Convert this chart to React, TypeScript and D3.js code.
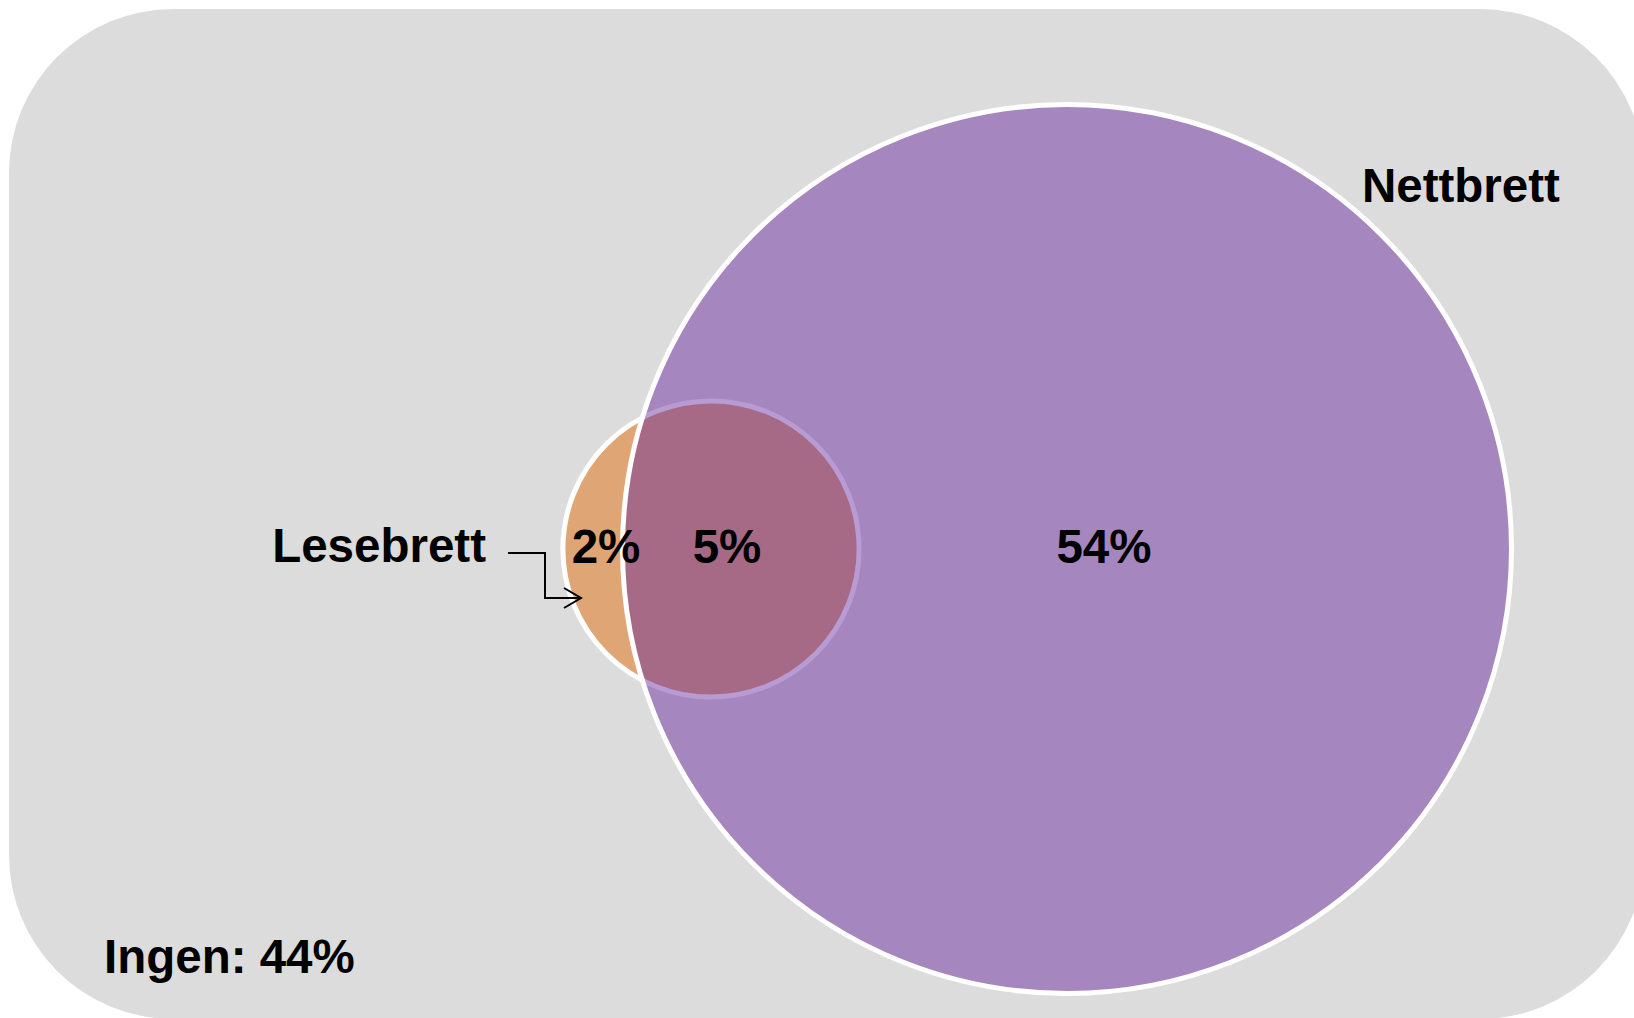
import React, { useRef, useEffect } from 'react';
import * as d3 from 'd3';

// Venn data: share of respondents (rounded labels as printed)
const setNames = ['Nettbrett', 'Lesebrett'];
const setSizes = [59, 6.55]; // total per device, estimated from circle areas
const regionLabels = ['54%', '5%', '2%'];
const noneLabel = 'Ingen: 44%';

const width = 1634;
const height = 1018;

const App: React.FC = () => {
  const ref = useRef<SVGSVGElement | null>(null);

  useEffect(() => {
    if (!ref.current) return;
    const svg = d3.select(ref.current);
    svg.selectAll('*').remove();
    svg.attr('viewBox', `0 0 ${width} ${height}`);

    const font = '"Liberation Sans", Arial, sans-serif';

    // radius is area-proportional
    const r = d3.scaleSqrt().domain([0, setSizes[0]]).range([0, 444.5]);
    const cy = 549;
    const big = { x: 1067, y: cy, r: r(setSizes[0]) };
    const small = { x: 711, y: cy, r: r(setSizes[1]) };

    const defs = svg.append('defs');
    defs.append('clipPath').attr('id', 'bigClip')
      .append('circle').attr('cx', big.x).attr('cy', big.y).attr('r', big.r);

    // Background panel
    svg.append('rect')
      .attr('x', 9).attr('y', 9)
      .attr('width', 1635).attr('height', 1010)
      .attr('rx', 164).attr('ry', 164)
      .attr('fill', '#dcdcdc');

    // Lesebrett (orange)
    svg.append('circle')
      .attr('cx', small.x).attr('cy', small.y).attr('r', small.r)
      .attr('fill', '#dfa574')
      .attr('stroke', '#ffffff')
      .attr('stroke-width', 5);

    // Nettbrett (purple) fill
    svg.append('circle')
      .attr('cx', big.x).attr('cy', big.y).attr('r', big.r)
      .attr('fill', '#a586be');

    // Overlap
    svg.append('circle')
      .attr('clip-path', 'url(#bigClip)')
      .attr('cx', small.x).attr('cy', small.y).attr('r', small.r)
      .attr('fill', '#a66a87')
      .attr('stroke', '#b89bd2')
      .attr('stroke-width', 5);

    // Nettbrett outline on top
    svg.append('circle')
      .attr('cx', big.x).attr('cy', big.y).attr('r', big.r)
      .attr('fill', 'none')
      .attr('stroke', '#ffffff')
      .attr('stroke-width', 5);

    const label = (x: number, y: number, t: string, anchor = 'middle') =>
      svg.append('text')
        .attr('x', x).attr('y', y)
        .attr('text-anchor', anchor)
        .attr('font-family', font)
        .attr('font-weight', 'bold')
        .attr('font-size', 47.5)
        .attr('fill', '#000')
        .text(t);

    // region values
    label(1104, 563, regionLabels[0]);
    label(727, 563, regionLabels[1]);
    label(606, 563, regionLabels[2]);

    // set names
    label(1362, 202, setNames[0], 'start');
    label(486, 562, setNames[1], 'end');
    label(104, 973, noneLabel, 'start');

    // elbow connector from Lesebrett label
    svg.append('path')
      .attr('d', 'M508,553 H545 V598 H581')
      .attr('fill', 'none')
      .attr('stroke', '#000')
      .attr('stroke-width', 2);
    svg.append('path')
      .attr('d', 'M564,588 L581,598 L564,608')
      .attr('fill', 'none')
      .attr('stroke', '#000')
      .attr('stroke-width', 2);
  }, []);

  return (
    <svg
      ref={ref}
      width={width}
      height={height}
      style={{ position: 'absolute', left: 0, top: 0, background: '#ffffff' }}
    />
  );
};

export default App;
